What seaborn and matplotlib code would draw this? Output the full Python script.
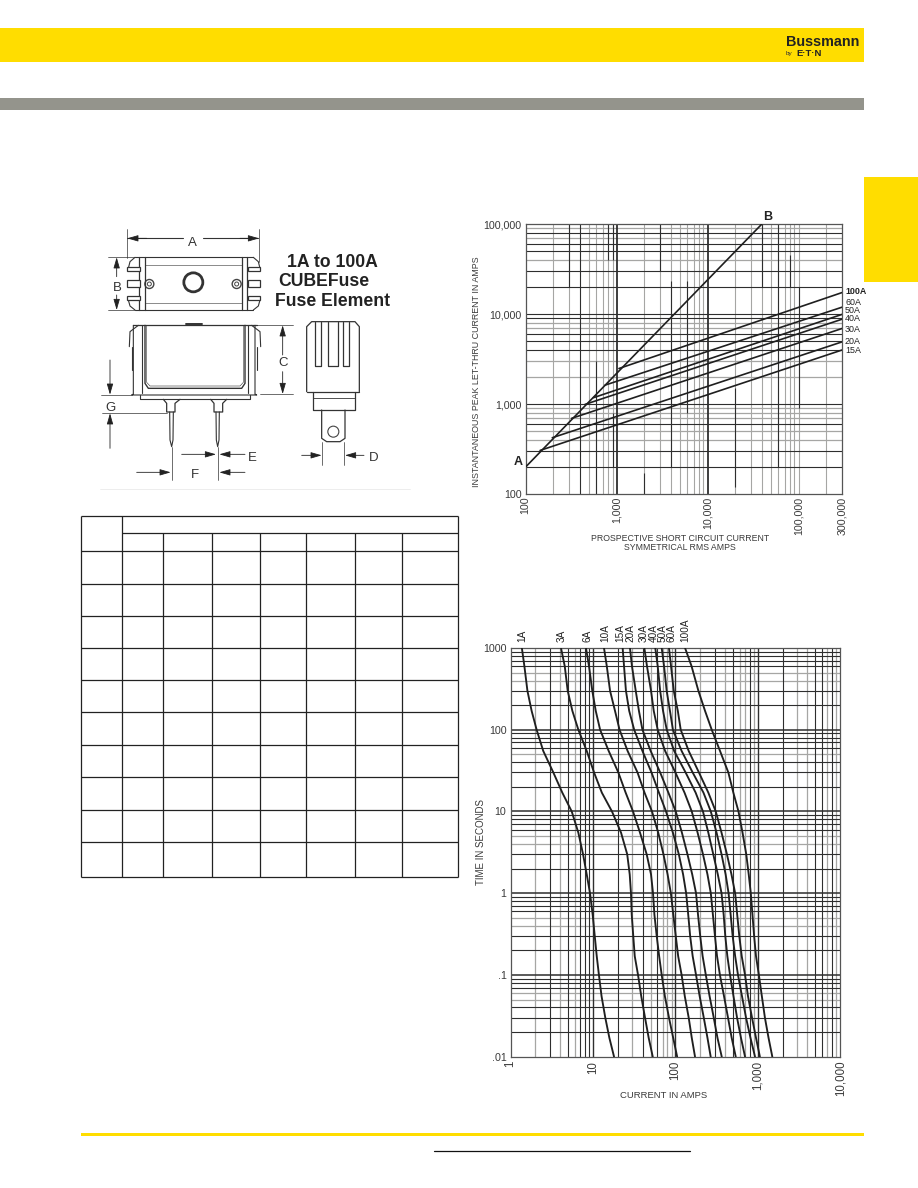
# Fuse datasheet page: dimension drawing, empty table, let-thru and time-current charts

import numpy as np
import pandas as pd
import seaborn as sns
import matplotlib.pyplot as plt
from matplotlib.patches import Circle, Rectangle

# let-thru chart
envelope_x = [100, 39500]
envelope_y = [200, 100000]
letthru_ratings = ['100A', '60A', '50A', '40A', '30A', '20A', '15A']
letthru_start_x = [1060, 745, 555, 449, 320, 196, 144]
letthru_start_y = [2480, 1620, 1175, 990, 693, 422, 305]
letthru_end_x = [300000] * 7
letthru_end_y = [17300, 11900, 9900, 8750, 6900, 4900, 3980]
letthru_xticks = [100, 1000, 10000, 100000, 300000]
letthru_yticks = [100, 1000, 10000, 100000]

# time-current chart
times = [1000, 600, 300, 170, 100, 55, 30, 17, 10, 5.5, 3, 1.7, 1, .55, .3, .17, .1, .055, .03, .017, .01]
amps_1 = [1.37, 1.47, 1.60, 1.80, 2.07, 2.49, 3.30, 4.24, 5.52, 6.64, 7.57, 8.39, 9.2, 9.9, 10.5, 11.1, 11.8, 12.7,
          14.1, 15.8, 18.0]
amps_3 = [4.09, 4.54, 4.93, 5.62, 6.64, 8.39, 10.3, 12.8, 17.0, 21.9, 26.0, 27.9, 28.9, 29.5, 30.8, 32.1, 35.2, 38.5,
          42.8, 47.4, 53.1]
amps_6 = [8.22, 8.94, 9.8, 10.8, 12.2, 15.5, 20.3, 24.9, 30.6, 37.2, 44.8, 50.6, 53.5, 55.6, 59.3, 63.5, 68.2, 74.5,
          83.6, 94, 105]
amps_10 = [13.6, 14.7, 16.1, 18.5, 21.0, 26.3, 34.7, 42.2, 52.0, 61.9, 71.6, 80.4, 88.1, 94.2, 101, 108, 119, 130,
           145, 158, 173]
amps_15 = [22.9, 23.8, 25.1, 27.5, 31.6, 39.8, 51.3, 63.1, 76.9, 93.3, 110, 124, 135, 143, 151, 162, 178, 197,
           221, 245, 268]
amps_20 = [28.1, 29.7, 33.0, 36.1, 39.8, 50.1, 65.3, 82.2, 101, 120, 140, 160, 178, 188, 200, 214, 234, 260,
           292, 324, 365]
amps_30 = [42.0, 45.2, 50.6, 54.6, 61, 75, 100, 129, 158, 186, 216, 245, 269, 285, 302, 320, 347, 389,
           435, 482, 540]
amps_40 = [57.0, 61, 65.3, 70.8, 78.5, 96.6, 133, 176, 216, 251, 288, 327, 363, 385, 403, 427, 460, 507,
           560, 625, 700]
amps_50 = [68.2, 72.8, 78.3, 85.9, 93.3, 119, 162, 219, 269, 316, 363, 407, 442, 468, 495, 531, 575, 643,
           720, 815, 925]
amps_60 = [83.6, 88.5, 95.5, 107, 116, 145, 193, 251, 309, 363, 422, 479, 531, 562, 596, 638, 700, 760,
           851, 951, 1060]
amps_100 = [131, 157, 190, 229, 276, 348, 439, 505, 583, 653, 724, 776, 822, 861, 902, 951, 1030, 1120,
            1220, 1350, 1500]
tcc_ratings = ['1A', '3A', '6A', '10A', '15A', '20A', '30A', '40A', '50A', '60A', '100A']
tcc_curves = [amps_1, amps_3, amps_6, amps_10, amps_15, amps_20, amps_30, amps_40, amps_50, amps_60, amps_100]
tcc_xticks = [1, 10, 100, 1000, 10000]
tcc_yticks = [.01, .1, 1, 10, 100, 1000]

# printed grid of the two charts, the print is uneven so some lines are dark, some grey
lt_h_dark = [80000, 60000, 50000, 30000, 20000, 10000, 9000, 6000, 5000, 4000, 1000, 600, 300, 200]
lt_h_grey = [90000, 70000, 40000, 8000, 7000, 3000, 2000, 900, 800, 700, 500, 400]
lt_v_grey = [200, 300, 500, 600, 700, 800, 900, 2000, 3000, 4000, 5000, 6000, 7000, 8000, 9000,
             20000, 30000, 40000, 50000, 60000, 70000, 80000, 90000, 100000, 200000]
lt_v_dark = [(300, 20000, 100000), (400, 100, 100000), (600, 100, 3000), (800, 40000, 100000),
             (900, 200, 800), (900, 40000, 100000), (2000, 100, 170), (3000, 30000, 100000),
             (4000, 200, 23000), (6000, 800, 23000), (20000, 120, 1500), (40000, 20000, 100000),
             (60000, 200, 100000), (80000, 20000, 45000), (100000, 900, 20000)]
tcc_h_dark = [900, 800, 700, 600, 300, 200, 90, 80, 70, 60, 40, 30, 20, 9, 8, 7, 6, 3, 2,
              .9, .8, .7, .6, .3, .2, .09, .08, .07, .04, .03, .02]
tcc_h_grey = [500, 400, 50, 5, 4, .5, .4, .06, .05]
tcc_v_dark = [3, 5, 7, 8, 9, 20, 40, 60, 300, 500, 800, 2000, 5000, 6000, 8000]
tcc_v_grey = [2, 4, 6, 30, 50, 70, 80, 90, 200, 400, 600, 700, 900, 3000, 4000, 7000, 9000]

DARK = '#2e2e2e'
GREY = '#a6a6a4'
CURVE = '#1f1f1f'
TEXT = '#3a3a3a'
YELLOW = '#ffdd00'
BAND = '#94948c'


def add_axes_px(fig, left, top, right, bottom):
    return fig.add_axes([left / 918, 1 - bottom / 1188, (right - left) / 918, (bottom - top) / 1188])


def style_log_axes(ax, xticks, yticks, xlabels, ylabels, xsize=7.7):
    ax.set_xscale('log')
    ax.set_yscale('log')
    ax.set_xticks(xticks)
    ax.set_xticklabels(xlabels, rotation=90, fontsize=xsize, color=TEXT)
    ax.set_yticks(yticks)
    ax.set_yticklabels(ylabels, fontsize=7.7, color=TEXT)
    ax.minorticks_off()
    ax.tick_params(axis='both', length=0, pad=3)
    for spine in ax.spines.values():
        spine.set_color('#555555')
        spine.set_linewidth(0.9)
    ax.set_xlabel('')
    ax.set_ylabel('')


sns.set_theme(style='white')
plt.rcParams['font.family'] = ['Liberation Sans', 'DejaVu Sans']

fig = plt.figure(figsize=(9.18, 11.88), dpi=100)

# page furniture, in pixels
page = fig.add_axes([0, 0, 1, 1])
page.set_xlim(0, 918)
page.set_ylim(1188, 0)
page.axis('off')
page.add_patch(Rectangle((0, 28), 864, 34, fc=YELLOW, ec='none'))
page.add_patch(Rectangle((0, 98), 864, 12, fc=BAND, ec='none'))
page.add_patch(Rectangle((864, 177), 54, 105, fc=YELLOW, ec='none'))
page.add_patch(Rectangle((81, 1133), 783, 3, fc=YELLOW, ec='none'))
page.plot([434, 690], [1151, 1151], color='#111111', lw=0.9)
page.text(786, 41.5, 'Bussmann', fontsize=10.4, fontweight='bold', color='#222222', va='center')
page.text(786, 53, 'by', fontsize=4.6, color='#333333', va='center')
page.text(796, 53, 'E·T·N', fontsize=6.8, fontweight='bold', color='#222222', va='center')

# empty dimension table
table_x = [81, 122.3, 163.3, 212.3, 260.3, 306.3, 355.3, 402.3, 458.3]
table_y = [551, 584, 616, 648, 680, 712, 745, 777, 810, 842, 877]
page.vlines(table_x[0], 516, 877, color='#222222', lw=0.9)
page.vlines(table_x[1], 516, 877, color='#222222', lw=0.9)
page.vlines(table_x[-1], 516, 877, color='#222222', lw=0.9)
page.vlines(table_x[2:-1], 533.3, 877, color='#222222', lw=0.9)
page.hlines(516, table_x[0], table_x[-1], color='#222222', lw=0.9)
page.hlines(533.3, table_x[1], table_x[-1], color='#222222', lw=0.9)
page.hlines(table_y, table_x[0], table_x[-1], color='#222222', lw=0.9)


# dimension drawing, points taken from a 3x crop starting at (80, 220)
def zx(x):
    return 80 + np.asarray(x, dtype=float) / 3


def zy(y):
    return 220 + np.asarray(y, dtype=float) / 3


def draw(xs, ys, lw=0.8, color='#333333'):
    page.plot(zx(xs), zy(ys), color=color, lw=lw, solid_capstyle='round')


def arrow(x0, y0, x1, y1):
    page.annotate('', xy=(zx(x1), zy(y1)), xytext=(zx(x0), zy(y0)),
                  arrowprops=dict(arrowstyle='-|>,head_length=0.55,head_width=0.16', color='#222222', lw=0.6,
                                  shrinkA=0, shrinkB=0))


# top view
draw([165, 520], [112, 112])
draw([165, 520], [270, 270])
draw([165, 150, 145], [112, 125, 145])
draw([165, 150, 145], [270, 258, 240])
draw([520, 535, 540], [112, 125, 145])
draw([520, 535, 540], [270, 258, 240])
for vx in [178, 195, 485, 500]:
    draw([vx, vx], [112, 270], lw=0.9)
draw([195, 485], [135, 135], lw=0.4)
draw([195, 485], [248, 248], lw=0.4)
page.add_patch(Circle((zx(340), zy(187)), 9.5, fc='white', ec='#333333', lw=2))
for ox in [208, 470]:
    page.add_patch(Circle((zx(ox), zy(192)), 4.5, fc='white', ec='#444444', lw=1))
    page.add_patch(Circle((zx(ox), zy(192)), 2, fc='white', ec='#444444', lw=0.7))
for cy in [148, 190, 235]:
    h = 22 if cy == 190 else 12
    page.add_patch(Rectangle((zx(142), zy(cy - h / 2)), 13, h / 3, fc='white', ec='#333333', lw=0.9, zorder=3))
    page.add_patch(Rectangle((zx(505), zy(cy - h / 2)), 12, h / 3, fc='white', ec='#333333', lw=0.9, zorder=3))
draw([142, 310], [55, 55])
draw([370, 535], [55, 55])
arrow(200, 55, 142, 55)
arrow(480, 55, 537, 55)
draw([142, 142], [28, 115], lw=0.5)
draw([537, 537], [28, 125], lw=0.5)
draw([85, 165], [112, 112], lw=0.5)
draw([85, 165], [270, 270], lw=0.5)
arrow(110, 170, 110, 112)
arrow(110, 225, 110, 270)

# front view
draw([160, 530], [316, 316], lw=0.9)
draw([160, 160, 155, 530, 525, 525], [316, 522, 525, 525, 522, 316], lw=0.8)
draw([180, 180, 510, 510], [525, 538, 538, 525], lw=0.8)
draw([185, 185], [316, 520])
draw([505, 505], [316, 520])
draw([195, 195, 205, 485, 495, 495], [316, 490, 505, 505, 490, 316], lw=1.0)
draw([200, 200, 210, 480, 490, 490], [316, 487, 498, 498, 487, 316], lw=0.4)
draw([318, 365], [312, 312], lw=1.4)
draw([148, 150, 175], [380, 335, 316], lw=0.8)
draw([542, 540, 515], [380, 335, 316], lw=0.8)
draw([155, 155], [380, 450], lw=0.8)
draw([530, 530], [380, 450], lw=0.8)
draw([250, 260, 260, 285, 285, 300], [538, 550, 576, 576, 550, 538], lw=0.9)
draw([392, 402, 402, 428, 428, 440], [538, 550, 576, 576, 550, 538], lw=0.9)
draw([269, 270, 275, 279, 280], [576, 660, 680, 660, 576], lw=0.8)
draw([408, 409, 413, 417, 418], [576, 660, 680, 660, 576], lw=0.8)

# side view
draw([680, 680, 695, 825, 838, 838], [515, 320, 305, 305, 320, 515], lw=0.9)
draw([680, 838], [515, 515], lw=0.9)
draw([698, 698, 825, 825], [515, 570, 570, 515], lw=0.9)
draw([698, 825], [535, 535], lw=0.6)
draw([725, 725, 740, 780, 795, 795], [570, 655, 665, 665, 655, 570], lw=0.9)
page.add_patch(Circle((zx(760), zy(635)), 5.5, fc='white', ec='#444444', lw=0.8))
for sl, sr in [(705, 722), (745, 775), (790, 808)]:
    draw([sl, sl, sr, sr], [305, 437, 437, 305], lw=0.9)

# dimension arrows of the lower views
draw([525, 640], [316, 316], lw=0.5)
draw([540, 640], [522, 522], lw=0.5)
arrow(608, 405, 608, 316)
arrow(608, 455, 608, 522)
draw([62, 155], [524, 524], lw=0.5)
draw([65, 260], [580, 580], lw=0.5)
arrow(90, 420, 90, 524)
arrow(90, 685, 90, 580)
arrow(305, 703, 408, 703)
arrow(495, 703, 418, 703)
arrow(170, 757, 272, 757)
arrow(495, 757, 418, 757)
draw([275, 275], [680, 780], lw=0.5)
draw([413, 413], [680, 780], lw=0.5)
arrow(665, 706, 725, 706)
arrow(852, 706, 795, 706)
draw([725, 725], [665, 735], lw=0.5)
draw([793, 793], [665, 735], lw=0.5)
draw([60, 990], [808, 808], lw=0.5, color='#e6e6e6')

for letter, lx, ly in [('A', 337, 68), ('B', 112, 205), ('C', 610, 430), ('G', 90, 565), ('E', 516, 715),
                       ('F', 345, 765), ('D', 880, 715)]:
    page.text(zx(lx), zy(ly), letter, fontsize=9.5, color='#333333', ha='center', va='center')
page.text(zx(757), zy(128), '1A to 100A', fontsize=12.7, fontweight='bold', color='#222222', ha='center', va='center')
page.text(zx(595), zy(186), 'CUBEFuse', fontsize=12.7, fontweight='bold', color='#222222', va='center')
page.text(zx(585), zy(245), 'Fuse Element', fontsize=12.7, fontweight='bold', color='#222222', va='center')

# let-thru chart
ax_top = add_axes_px(fig, 525.7, 224, 842, 494)
ax_top.set_facecolor('none')
rows = [{'rating': 'envelope', 'current': x, 'peak': y} for x, y in zip(envelope_x, envelope_y)]
for i, rating in enumerate(letthru_ratings):
    rows.append({'rating': rating, 'current': letthru_start_x[i], 'peak': letthru_start_y[i]})
    rows.append({'rating': rating, 'current': letthru_end_x[i], 'peak': letthru_end_y[i]})
df_top = pd.DataFrame(rows)
sns.lineplot(data=df_top, x='current', y='peak', hue='rating', palette=[CURVE] * 8, estimator=None, sort=False,
             legend=False, linewidth=1.2, zorder=5, ax=ax_top)
ax_top.set_xlim(100, 300000)
ax_top.set_ylim(100, 100000)
style_log_axes(ax_top, letthru_xticks, letthru_yticks, ['100', '1,000', '10,000', '100,000', '300,000'],
               ['100', '1,000', '10,000', '100,000'])
ax_top.tick_params(axis='x', pad=2)
ax_top.hlines(lt_h_grey, 100, 300000, color=GREY, lw=0.9, zorder=1)
ax_top.hlines(lt_h_dark, 100, 300000, color=DARK, lw=0.8, zorder=2)
ax_top.vlines(lt_v_grey, 100, 100000, color=GREY, lw=0.8, zorder=1)
for gx, g0, g1 in lt_v_dark:
    ax_top.vlines(gx, g0, g1, color=DARK, lw=0.8, zorder=2)
ax_top.vlines([1000, 10000], 100, 100000, color=DARK, lw=1.3, zorder=2)
ax_top.set_ylabel('INSTANTANEOUS PEAK LET-THRU CURRENT IN AMPS', fontsize=6.4, color=TEXT)
ax_top.yaxis.set_label_coords((481 - 525.7) / 316.3, (494 - 372) / 270)
ax_top.set_xlabel('PROSPECTIVE SHORT CIRCUIT CURRENT\nSYMMETRICAL RMS AMPS', fontsize=6.35, color=TEXT, linespacing=1.0)
ax_top.xaxis.set_label_coords((680 - 525.7) / 316.3, -(533.5 - 494) / 270)

label_rows_y = [291, 302.7, 310.7, 318.7, 329, 341.7, 350.7]
for rating, ly in zip(letthru_ratings, label_rows_y):
    page.text(845, ly, rating, fontsize=6.4, fontweight='bold' if rating == '100A' else 'normal', color='#222222',
              va='center')
page.text(518.5, 462, 'A', fontsize=9, fontweight='bold', color='#222222', ha='center', va='center')
page.text(767.5, 216.5, 'B', fontsize=9, fontweight='bold', color='#222222', ha='center', va='center')

# time-current chart
ax_bot = add_axes_px(fig, 510.6, 648, 840.2, 1056.7)
ax_bot.set_facecolor('none')
df_bot = pd.DataFrame({
    'rating': np.repeat(tcc_ratings, len(times)),
    'amps': np.concatenate(tcc_curves),
    'seconds': times * len(tcc_ratings),
})
sns.lineplot(data=df_bot, x='amps', y='seconds', hue='rating', palette=[CURVE] * 11, estimator=None, sort=False,
             legend=False, linewidth=1.35, zorder=5, ax=ax_bot)
ax_bot.set_xlim(1, 10000)
ax_bot.set_ylim(.01, 1000)
style_log_axes(ax_bot, tcc_xticks, tcc_yticks, ['1', '10', '100', '1,000', '10,000'],
               ['.01', '.1', '1', '10', '100', '1000'], xsize=8.3)
ax_bot.hlines(tcc_h_grey, 1, 10000, color=GREY, lw=0.9, zorder=1)
ax_bot.hlines(tcc_h_dark, 1, 10000, color=DARK, lw=0.8, zorder=2)
ax_bot.hlines([.1, 1, 10, 100], 1, 10000, color=DARK, lw=1.1, zorder=2)
ax_bot.vlines(tcc_v_grey, .01, 1000, color=GREY, lw=0.9, zorder=1)
ax_bot.vlines(tcc_v_dark, .01, 1000, color=DARK, lw=0.8, zorder=2)
ax_bot.vlines([10, 100, 1000], .01, 1000, color=DARK, lw=1.0, zorder=2)
ax_bot.set_ylabel('TIME IN SECONDS', fontsize=7, color=TEXT)
ax_bot.yaxis.set_label_coords((486 - 510.6) / 329.6, (1056.7 - 842) / 408.7)
ax_bot.set_xlabel('CURRENT IN AMPS', fontsize=6.8, color=TEXT)
ax_bot.xaxis.set_label_coords((663.7 - 510.6) / 329.6, -(1091 - 1056.7) / 408.7)

label_x = [522.7, 561.7, 587.7, 605, 620, 630.7, 644, 653.7, 662.7, 671.7, 685]
for rating, lx in zip(tcc_ratings, label_x):
    page.text(lx, 642, rating, fontsize=7.2, color='#222222', rotation=90, ha='center', va='bottom')

fig.savefig('out.png', dpi=100)
